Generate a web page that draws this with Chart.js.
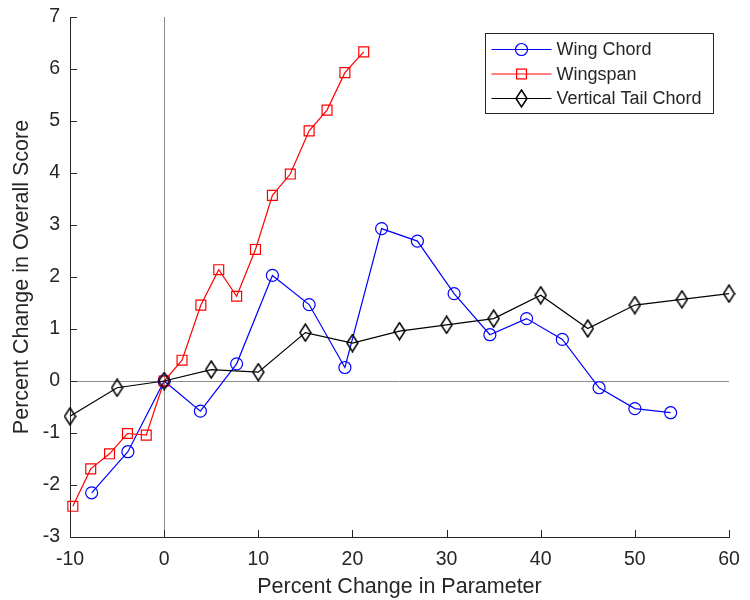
<!DOCTYPE html>
<html>
<head>
<meta charset="utf-8">
<script src="https://cdn.jsdelivr.net/npm/chart.js@4/dist/chart.umd.min.js"></script>
<style>
  html, body { margin: 0; padding: 0; background: #fff; }
  canvas { display: block; }
</style>
</head>
<body>
<canvas id="c" width="750" height="600"></canvas>
<script>
// Sensitivity of the overall score to each design parameter
const wingChordX = [-7.7, -3.85, 0, 3.85, 7.7, 11.5, 15.4, 19.2, 23.1, 26.9, 30.8, 34.6, 38.5, 42.3, 46.2, 50, 53.8];
const wingChordY = [-2.15, -1.36, 0, -0.58, 0.33, 2.03, 1.47, 0.26, 2.93, 2.69, 1.68, 0.89, 1.20, 0.80, -0.13, -0.53, -0.61];

const wingspanX = [-9.7, -7.8, -5.8, -3.9, -1.9, 0, 1.9, 3.9, 5.8, 7.7, 9.7, 11.5, 13.4, 15.4, 17.3, 19.2, 21.2];
const wingspanY = [-2.41, -1.69, -1.40, -1.01, -1.04, 0, 0.40, 1.46, 2.14, 1.63, 2.53, 3.57, 3.98, 4.81, 5.21, 5.93, 6.33];

const tailChordX = [-10, -5, 0, 5, 10, 15, 20, 25, 30, 35, 40, 45, 50, 55, 60];
const tailChordY = [-0.68, -0.13, 0, 0.22, 0.17, 0.93, 0.73, 0.96, 1.08, 1.20, 1.65, 1.01, 1.46, 1.57, 1.68];

const seriesNames = ['Wing Chord', 'Wingspan', 'Vertical Tail Chord'];
const xTickValues = [-10, 0, 10, 20, 30, 40, 50, 60];
const yTickValues = [-3, -2, -1, 0, 1, 2, 3, 4, 5, 6, 7];
const xTitle = 'Percent Change in Parameter';
const yTitle = 'Percent Change in Overall Score';

const FONT = "'Liberation Sans', Arial, Helvetica, sans-serif";
const INK = '#262626';

function toPoints(xs, ys) {
  return xs.map((x, i) => ({ x: x, y: ys[i] }));
}

// Open diamond marker, a little taller than wide
function diamondMarker(w, h, color) {
  const c = document.createElement('canvas');
  c.width = w + 2;
  c.height = h + 2;
  const g = c.getContext('2d');
  g.strokeStyle = color;
  g.lineWidth = 1.5;
  g.beginPath();
  g.moveTo(c.width / 2, 1);
  g.lineTo(c.width - 1, c.height / 2);
  g.lineTo(c.width / 2, c.height - 1);
  g.lineTo(1, c.height / 2);
  g.closePath();
  g.stroke();
  return c;
}
const diamond = diamondMarker(11, 17, '#000');

// Zero reference lines, inward tick marks and the boxed legend
const decorPlugin = {
  id: 'decor',
  beforeDatasetsDraw(chart) {
    const { ctx, chartArea: a, scales: { x, y } } = chart;
    ctx.save();
    ctx.strokeStyle = '#8c8c8c';
    ctx.lineWidth = 1;
    const x0 = Math.round(x.getPixelForValue(0)) + 0.5;
    const y0 = Math.round(y.getPixelForValue(0)) + 0.5;
    ctx.beginPath();
    ctx.moveTo(x0, a.top);
    ctx.lineTo(x0, a.bottom);
    ctx.moveTo(a.left, y0);
    ctx.lineTo(a.right, y0);
    ctx.stroke();

    ctx.strokeStyle = INK;
    ctx.beginPath();
    xTickValues.forEach(v => {
      const px = Math.round(x.getPixelForValue(v)) + 0.5;
      ctx.moveTo(px, a.bottom);
      ctx.lineTo(px, a.bottom - 7);
    });
    yTickValues.forEach(v => {
      const py = Math.round(y.getPixelForValue(v)) + 0.5;
      ctx.moveTo(a.left, py);
      ctx.lineTo(a.left + 7, py);
    });
    ctx.stroke();
    ctx.restore();
  },
  afterDraw(chart) {
    const { ctx, chartArea: a } = chart;
    const boxW = 228, boxH = 80;
    const bx = Math.round(a.right - 16 - boxW) + 0.5;
    const by = Math.round(a.top + 16) + 0.5;
    ctx.save();
    ctx.fillStyle = '#fff';
    ctx.fillRect(bx, by, boxW, boxH);
    ctx.strokeStyle = INK;
    ctx.lineWidth = 1;
    ctx.strokeRect(bx, by, boxW, boxH);

    chart.data.datasets.forEach((ds, i) => {
      const cy = by + 16 + i * 24.5;
      const lx0 = bx + 6, lx1 = bx + 66, mx = bx + 36;
      ctx.strokeStyle = ds.borderColor;
      ctx.lineWidth = ds.borderWidth;
      ctx.beginPath();
      ctx.moveTo(lx0, cy);
      ctx.lineTo(lx1, cy);
      ctx.stroke();
      ctx.fillStyle = 'rgba(0,0,0,0)';
      ctx.strokeStyle = ds.borderColor;
      ctx.lineWidth = ds.pointBorderWidth || 1;
      Chart.helpers.drawPoint(ctx, {
        pointStyle: ds.pointStyle,
        radius: ds.pointRadius,
        borderWidth: ds.pointBorderWidth || 1,
        rotation: 0
      }, mx, cy);
      ctx.fillStyle = INK;
      ctx.font = '18px ' + FONT;
      ctx.textAlign = 'left';
      ctx.textBaseline = 'middle';
      ctx.fillText(ds.label, bx + 71, cy + 1);
    });
    ctx.restore();
  }
};

new Chart(document.getElementById('c'), {
  type: 'line',
  data: {
    datasets: [
      {
        label: seriesNames[0],
        data: toPoints(wingChordX, wingChordY),
        borderColor: '#0000ff',
        backgroundColor: 'rgba(0,0,0,0)',
        borderWidth: 1.2,
        pointStyle: 'circle',
        pointRadius: 6,
        pointBorderWidth: 1.2,
        order: 2
      },
      {
        label: seriesNames[1],
        data: toPoints(wingspanX, wingspanY),
        borderColor: '#ff0000',
        backgroundColor: 'rgba(0,0,0,0)',
        borderWidth: 1.2,
        pointStyle: 'rect',
        pointRadius: 7,
        pointBorderWidth: 1.2,
        order: 1
      },
      {
        label: seriesNames[2],
        data: toPoints(tailChordX, tailChordY),
        borderColor: '#000000',
        backgroundColor: 'rgba(0,0,0,0)',
        borderWidth: 1.2,
        pointStyle: diamond,
        pointRadius: 8,
        order: 0
      }
    ]
  },
  options: {
    responsive: false,
    animation: false,
    devicePixelRatio: 1,
    layout: { padding: { left: 0, top: 17, right: 21, bottom: 0 } },
    elements: { line: { tension: 0, fill: false } },
    datasets: { line: { clip: false } },
    plugins: {
      legend: { display: false },
      tooltip: { enabled: false }
    },
    scales: {
      x: {
        type: 'linear',
        min: -10,
        max: 60,
        grid: { display: false, drawTicks: false },
        border: { display: true, color: INK, width: 1 },
        ticks: {
          stepSize: 10,
          padding: 11,
          color: INK,
          font: { family: FONT, size: 19.5 },
          maxRotation: 0
        },
        title: {
          display: true,
          text: xTitle,
          color: INK,
          font: { family: FONT, size: 21.5 },
          padding: { top: 0, bottom: 0 }
        },
        afterFit(scale) {
          scale.height = 63;
          scale.paddingLeft = 0;
          scale.paddingRight = 0;
        }
      },
      y: {
        type: 'linear',
        min: -3,
        max: 7,
        grid: { display: false, drawTicks: false },
        border: { display: true, color: INK, width: 1 },
        ticks: {
          stepSize: 1,
          padding: 10,
          color: INK,
          font: { family: FONT, size: 19.5 }
        },
        title: {
          display: true,
          text: yTitle,
          color: INK,
          font: { family: FONT, size: 21.5 },
          padding: { top: 9, bottom: 0 }
        },
        afterFit(scale) {
          scale.width = 70;
          scale.paddingTop = 0;
          scale.paddingBottom = 0;
        }
      }
    }
  },
  plugins: [decorPlugin]
});
</script>
</body>
</html>
